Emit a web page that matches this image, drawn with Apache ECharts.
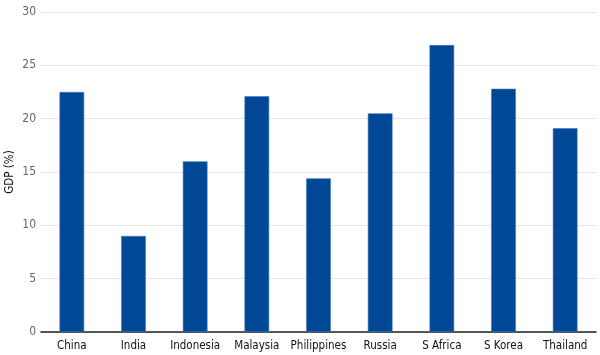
<!DOCTYPE html>
<html><head><meta charset="utf-8">
<script src="https://cdn.jsdelivr.net/npm/echarts@6/dist/echarts.min.js"></script>
<style>html,body{margin:0;padding:0;background:#fff}#c{width:600px;height:355px}</style>
</head><body><div id="c"></div>
<script>
var categories = ['China','India','Indonesia','Malaysia','Philippines','Russia','S Africa','S Korea','Thailand'];
var gdpValues = [22.5, 9.0, 16.0, 22.1, 14.4, 20.5, 26.9, 22.8, 19.1];
var yTicks = [0, 5, 10, 15, 20, 25, 30];
var FONT = '"DejaVu Sans Condensed","Roboto",sans-serif';
var chart = echarts.init(document.getElementById('c'));
chart.setOption({
  animation: false,
  grid: {left: 41, right: 4, top: 12, bottom: 23, containLabel: false, outerBoundsMode: 'none'},
  xAxis: {
    type: 'category', data: categories,
    axisLine: {lineStyle: {color: '#222', width: 1.5}},
    axisTick: {show: false},
    axisLabel: {color: '#111', fontFamily: FONT, fontSize: 11.5, margin: 8, interval: 0}
  },
  yAxis: {
    type: 'value', min: yTicks[0], max: yTicks[yTicks.length-1], interval: 5,
    name: 'GDP (%)', nameLocation: 'middle', nameGap: 31, nameMoveOverlap: false,
    nameTextStyle: {color: '#111', fontFamily: FONT, fontSize: 11.5, verticalAlign: 'middle'},
    axisLine: {show: false}, axisTick: {show: false},
    axisLabel: {color: '#666', fontFamily: FONT, fontSize: 12, margin: 5},
    splitLine: {lineStyle: {color: '#e4e4e4', width: 1}}
  },
  series: [{
    type: 'bar', data: gdpValues, barWidth: '40%',
    itemStyle: {color: '#004896', borderColor: '#3b78bb', borderWidth: 0.6}
  }]
});
</script></body></html>
